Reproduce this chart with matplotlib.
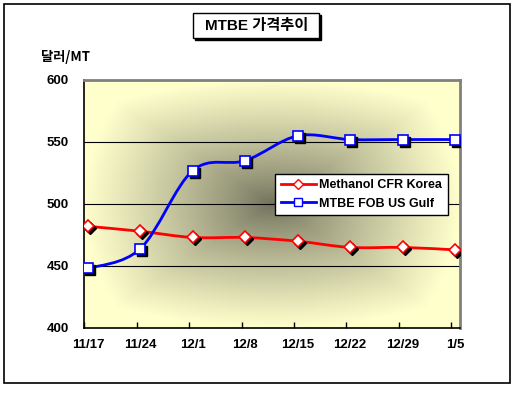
import numpy as np
import matplotlib
matplotlib.use('Agg')
import matplotlib.pyplot as plt
import matplotlib.patches as patches
import matplotlib.transforms as mtransforms
from matplotlib.path import Path

plt.rcParams['font.family'] = ['Liberation Sans', 'Noto Sans CJK KR', 'DejaVu Sans']

# data
dates = ['11/17', '11/24', '12/1', '12/8', '12/15', '12/22', '12/29', '1/5']
methanol = [482, 478, 473, 473, 470, 465, 465, 463]
mtbe = [448, 464, 527, 535, 555, 552, 552, 552]
labels = ['Methanol CFR Korea', 'MTBE FOB US Gulf']
title = 'MTBE 가격추이'
unit = '달러/MT'
yticks = [400, 450, 500, 550, 600]


def smooth_path(xs, ys):
	# catmull-rom style bezier through the points, like excel smoothed lines
	pts = np.column_stack((xs, ys)).astype(float)
	ext = np.vstack((pts[0], pts, pts[-1]))
	verts = [pts[0]]
	codes = [Path.MOVETO]
	for i in range(len(pts) - 1):
		p0, p1, p2, p3 = ext[i], ext[i+1], ext[i+2], ext[i+3]
		verts += [p1 + (p2 - p0) / 6, p2 - (p3 - p1) / 6, p2]
		codes += [Path.CURVE4] * 3
	return Path(verts, codes)


fig = plt.figure(figsize=(5.16, 3.93), dpi=100)

# outer chart frame
fig.patches.append(patches.Rectangle((4/516, 10/393), 506/516, 379/393, transform=fig.transFigure,
									 fill=False, edgecolor='black', linewidth=1.2))

ax = fig.add_axes([84/516, 65/393, 376/516, 248/393])

# background: light yellow at the edges going dark toward the centre
n = 300
gx, gy = np.meshgrid(np.linspace(-1, 1, n), np.linspace(-1, 1, n))
t = np.clip(np.maximum(np.abs(gx), np.abs(gy)) * 0.5 + np.sqrt(gx**2 + gy**2) * 0.5, 0, 1)
t = t**0.85
edge = np.array([255, 255, 204]) / 255
centre = np.array([112, 112, 92]) / 255
grad = centre + (edge - centre) * t[..., None]
ax.imshow(grad, extent=(0, 1, 0, 1), transform=ax.transAxes, aspect='auto', zorder=0, interpolation='bilinear')

x = np.arange(len(dates))
ax.set_xlim(-0.076, 7.095)
ax.set_ylim(400, 600)

for yv in yticks[1:-1]:
	ax.axhline(yv, color='black', linewidth=0.8, zorder=1)

shadow = mtransforms.offset_copy(ax.transData, fig=fig, x=2, y=-2, units='dots')
series = [(methanol, '#FF0000', 'D', 6.5), (mtbe, '#0000FF', 's', 7)]
for (vals, col, mk, ms), lab in zip(series, labels):
	ax.add_patch(patches.PathPatch(smooth_path(x, vals), fill=False, edgecolor=col, linewidth=2, zorder=3))
	ax.plot(x, vals, linestyle='none', marker=mk, markersize=ms, color='black', transform=shadow, zorder=4)
	ax.plot(x, vals, linestyle='none', marker=mk, markersize=ms, markerfacecolor='white',
			markeredgecolor=col, markeredgewidth=1.2, zorder=5)
	ax.plot([], [], color=col, linewidth=2, marker=mk, markersize=ms - 1, markerfacecolor='white',
			markeredgecolor=col, label=lab)

leg = ax.legend(loc='center', bbox_to_anchor=(0.738, 0.538), frameon=True, fancybox=False,
				edgecolor='black', framealpha=1, handlelength=2.8, handletextpad=0.3,
				borderpad=0.45, labelspacing=0.5, prop={'weight': 'bold', 'size': 9})
leg.get_frame().set_linewidth(1.0)
leg.set_zorder(6)

ax.set_yticks(yticks)
ax.set_yticklabels([str(v) for v in yticks], fontsize=9.5, fontweight='bold')
ax.tick_params(axis='y', length=0, pad=11)
ax.set_xticks(x)
ax.set_xticklabels(dates, fontsize=9.5, fontweight='bold')
ax.tick_params(axis='x', length=0, pad=8)
ax.set_xticks(x - 0.07, minor=True)
ax.tick_params(axis='x', which='minor', direction='in', length=4, width=1, color='black')

for side in ['left', 'bottom']:
	ax.spines[side].set_color('black')
	ax.spines[side].set_linewidth(1.2)
for side in ['top', 'right']:
	ax.spines[side].set_color('#808080')
	ax.spines[side].set_linewidth(2)

# title box with drop shadow
fig.patches.append(patches.Rectangle((195/516, (393-40)/393), 126/516, 25/393, transform=fig.transFigure,
									 facecolor='black', edgecolor='black'))
fig.patches.append(patches.Rectangle((193/516, (393-38)/393), 126/516, 25/393, transform=fig.transFigure,
									 facecolor='white', edgecolor='black', linewidth=1))
fig.text(257/516, (393-26)/393, title, ha='center', va='center', fontsize=11, fontweight='bold',
		 family=['Liberation Sans', 'Noto Sans CJK KR'])

fig.text(66/516, (393-57)/393, unit, ha='center', va='center', fontsize=9.5, fontweight='bold',
		 family=['Noto Sans CJK KR', 'Liberation Sans'])

fig.savefig('out.png', dpi=100)
